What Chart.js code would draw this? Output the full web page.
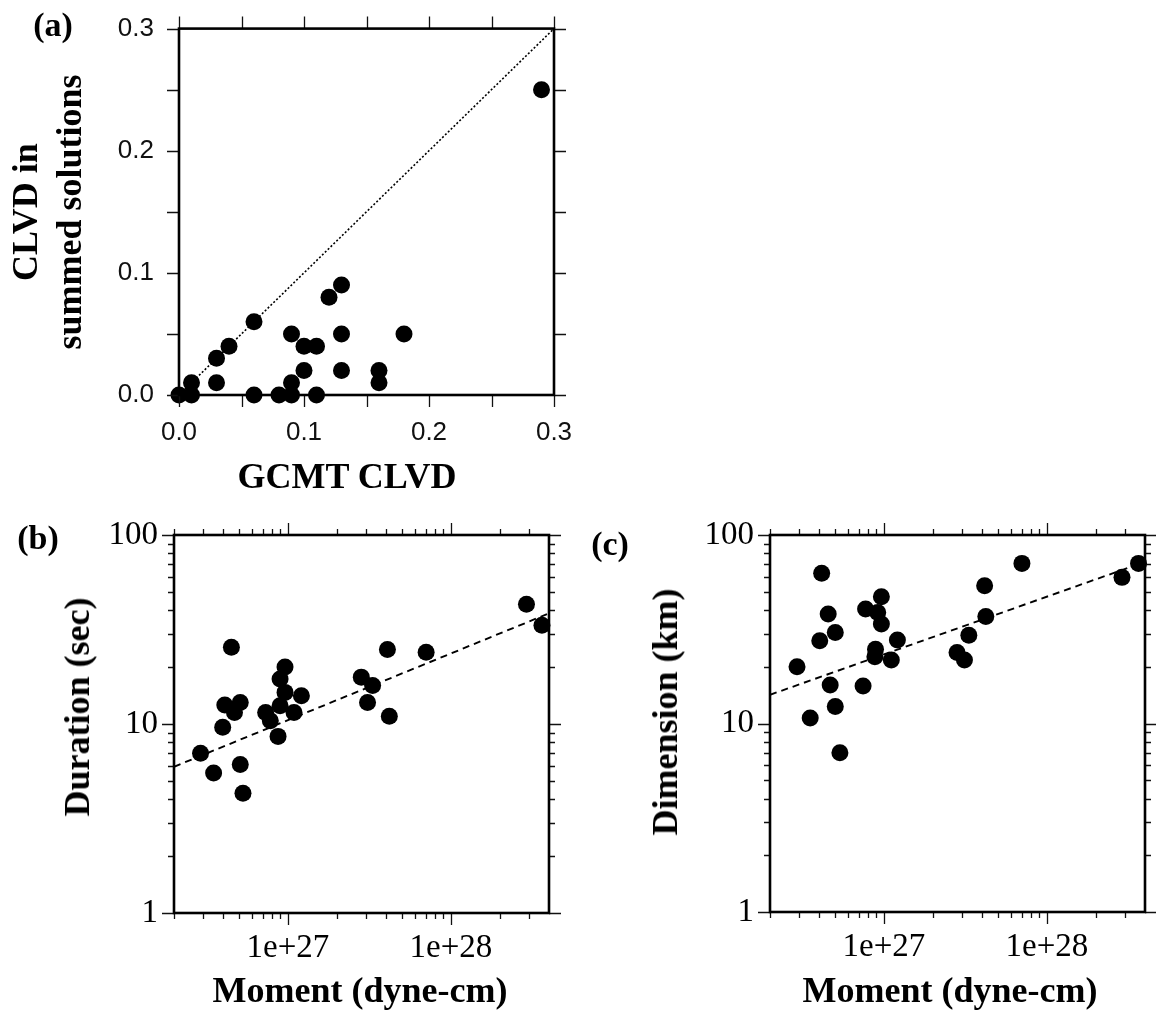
<!DOCTYPE html>
<html>
<head>
<meta charset="utf-8">
<script src="https://cdn.jsdelivr.net/npm/chart.js@4.4.1/dist/chart.umd.min.js"></script>
<style>
  body { margin: 0; background: #fff; width: 1156px; height: 1017px; position: relative; overflow: hidden; }
  canvas { position: absolute; }
  .lbl {
    position: absolute;
    font-family: "Liberation Serif", "Times New Roman", serif;
    font-weight: bold;
    font-size: 36px;
    line-height: 36px;
    color: #000;
    white-space: nowrap;
    transform: translate(-50%, -50%);
  }
  .rot { transform: translate(-50%, -50%) rotate(-90deg); text-align: center; }
  .panel { font-size: 34px; line-height: 34px; }
</style>
</head>
<body>
<canvas id="chartA" width="600" height="460" style="left:0;top:0"></canvas>
<canvas id="chartB" width="600" height="517" style="left:0;top:500px"></canvas>
<canvas id="chartC" width="556" height="517" style="left:600px;top:500px"></canvas>

<div class="lbl panel" style="left:53px;top:25px">(a)</div>
<div class="lbl panel" style="left:38px;top:538px">(b)</div>
<div class="lbl panel" style="left:610px;top:544px">(c)</div>

<div class="lbl rot" style="left:47px;top:212px;line-height:44px">CLVD in<br>summed solutions</div>
<div class="lbl" style="left:347px;top:476px">GCMT CLVD</div>
<div class="lbl rot" style="left:77px;top:707px">Duration (sec)</div>
<div class="lbl" style="left:360px;top:990px">Moment (dyne-cm)</div>
<div class="lbl rot" style="left:665px;top:712px">Dimension (km)</div>
<div class="lbl" style="left:950px;top:990px">Moment (dyne-cm)</div>

<script>
// (a) CLVD comparison
const aGcmt   = [0, 0.01, 0.01, 0.03, 0.03, 0.04, 0.06, 0.06, 0.08, 0.09, 0.09, 0.09, 0.10, 0.10, 0.11, 0.11, 0.12, 0.13, 0.13, 0.13, 0.16, 0.16, 0.18, 0.29];
const aSummed = [0, 0,    0.01, 0.01, 0.03, 0.04, 0.06, 0,    0,    0,    0.01, 0.05, 0.04, 0.02, 0.04, 0,    0.08, 0.09, 0.05, 0.02, 0.02, 0.01, 0.05, 0.25];
const aLineX = [0, 0.3];
const aLineY = [0, 0.3];
const aTicks = [0, 0.1, 0.2, 0.3];
const aMinor = [0.05, 0.15, 0.25];

// (b) duration vs moment
const bMoment = [2.91e26, 3.5e26, 3.98e26, 4.1e26, 4.5e26, 4.7e26, 5.1e26, 5.1e26, 5.3e26, 7.3e26, 7.8e26, 8.7e26, 8.95e26,
  8.95e26, 9.6e26, 9.6e26, 1.09e27, 1.21e27, 2.82e27, 3.08e27, 3.31e27, 4.08e27, 4.19e27, 7.05e27, 2.91e28, 3.62e28];
const bDuration = [7.0, 5.5, 9.6, 12.6, 25.5, 11.5, 13.0, 6.1, 4.3, 11.5, 10.4, 8.6, 12.5,
  17.3, 20.0, 14.7, 11.5, 14.1, 17.7, 13.0, 16.0, 24.8, 11.0, 24.0, 43.0, 33.3];
const bFitMoment = [2e26, 4e28];
const bFitDuration = [5.94, 38.5];

// (c) dimension vs moment
const cMoment = [2.93e26, 3.53e26, 4.04e26, 4.15e26, 4.55e26, 4.68e26, 5.03e26, 5.03e26, 5.37e26, 7.45e26, 7.72e26, 9.16e26, 8.88e26,
  8.8e26, 9.65e26, 9.65e26, 1.11e27, 1.21e27, 2.81e27, 3.12e27, 3.32e27, 4.15e27, 4.22e27, 7.03e27, 2.89e28, 3.65e28];
const cDimension = [20.0, 10.7, 27.5, 62.6, 38.1, 16.0, 30.4, 12.3, 7.0, 15.8, 40.5, 38.8, 24.8,
  22.6, 47.1, 33.7, 21.7, 27.7, 23.8, 21.7, 29.4, 53.8, 37.0, 70.7, 59.6, 70.7];
const cFitMoment = [2e26, 4e28];
const cFitDimension = [14.2, 72];

const momentMin = 2e26, momentMax = 4e28;
const momentTicks = [1e27, 1e28];
const logTicks = [1, 10, 100];

const serif = '"Liberation Serif", "Times New Roman", serif';
const sans = '"Liberation Sans", Arial, sans-serif';

function pairs(xs, ys){
  return xs.map((x, i) => ({ x: x, y: ys[i] }));
}

function logMinor(min, max){
  const out = [];
  for(let e = Math.floor(Math.log10(min)); e <= Math.ceil(Math.log10(max)); e++){
    for(let m = 2; m <= 9; m++){
      const v = m * Math.pow(10, e);
      if(v >= min * 0.999 && v <= max * 0.999) out.push(v);
    }
  }
  return out;
}

// box round the plot with outward ticks on all four sides
function framePlugin(xMajor, xMinor, yMajor, yMinor, majorLen, minorLen){
  return {
    id: "frame",
    afterDatasetsDraw(chart){
      const ctx = chart.ctx;
      const a = chart.chartArea;
      const x = chart.scales.x, y = chart.scales.y;
      ctx.save();
      ctx.strokeStyle = "#111";
      ctx.lineWidth = 1.3;
      ctx.beginPath();
      const xt = (vals, len) => vals.forEach(v => {
        const px = Math.round(x.getPixelForValue(v)) + 0.5;
        ctx.moveTo(px, a.top); ctx.lineTo(px, a.top - len);
        ctx.moveTo(px, a.bottom); ctx.lineTo(px, a.bottom + len);
      });
      const yt = (vals, len) => vals.forEach(v => {
        const py = Math.round(y.getPixelForValue(v)) + 0.5;
        ctx.moveTo(a.left, py); ctx.lineTo(a.left - len, py);
        ctx.moveTo(a.right, py); ctx.lineTo(a.right + len, py);
      });
      xt(xMajor, majorLen); xt(xMinor, minorLen);
      yt(yMajor, majorLen); yt(yMinor, minorLen);
      ctx.stroke();
      ctx.strokeStyle = "#000";
      ctx.lineWidth = 2.6;
      ctx.strokeRect(a.left, a.top, a.right - a.left, a.bottom - a.top);
      ctx.restore();
    }
  };
}

function scatterSet(points){
  return {
    data: points,
    pointRadius: 8.5,
    pointHoverRadius: 8.5,
    backgroundColor: "#000",
    borderWidth: 0,
    clip: false
  };
}

function lineSet(points, dash, width){
  return {
    data: points,
    showLine: true,
    pointRadius: 0,
    borderColor: "#000",
    borderWidth: width,
    borderDash: dash,
    fill: false
  };
}

// Chart (a)
new Chart(document.getElementById("chartA"), {
  type: "scatter",
  data: {
    datasets: [
      lineSet(pairs(aLineX, aLineY), [2, 2], 1.6),
      scatterSet(pairs(aGcmt, aSummed))
    ]
  },
  options: {
    responsive: false,
    animation: false,
    layout: { padding: { top: 21, right: 46, bottom: 0, left: 0 } },
    plugins: { legend: { display: false }, tooltip: { enabled: false } },
    scales: {
      x: {
        type: "linear", min: 0, max: 0.3,
        afterBuildTicks: s => { s.ticks = aTicks.map(v => ({ value: v })); },
        afterFit: s => { s.height = 65; },
        grid: { display: false, drawTicks: true, tickLength: 12 },
        border: { display: false },
        ticks: { autoSkip: false, maxRotation: 0, padding: 10, color: "#111",
          font: { family: sans, size: 26 }, callback: v => v.toFixed(1) }
      },
      y: {
        type: "linear", min: 0, max: 0.3,
        afterBuildTicks: s => { s.ticks = aTicks.map(v => ({ value: v })); },
        afterFit: s => { s.width = 179; },
        grid: { display: false, drawTicks: true, tickLength: 12 },
        border: { display: false },
        ticks: { autoSkip: false, padding: 13, color: "#111",
          font: { family: sans, size: 26 }, callback: v => v.toFixed(1) }
      }
    }
  },
  plugins: [framePlugin(aTicks, aMinor, aTicks, aMinor, 12, 12)]
});

function logChart(id, xs, ys, fitX, fitY, padRight, yWidth, xHeight){
  return new Chart(document.getElementById(id), {
    type: "scatter",
    data: {
      datasets: [
        lineSet(pairs(fitX, fitY), [7, 5], 1.9),
        scatterSet(pairs(xs, ys))
      ]
    },
    options: {
      responsive: false,
      animation: false,
      layout: { padding: { top: 35, right: padRight, bottom: 0, left: 0 } },
      plugins: { legend: { display: false }, tooltip: { enabled: false } },
      scales: {
        x: {
          type: "logarithmic", min: momentMin, max: momentMax,
          afterBuildTicks: s => { s.ticks = momentTicks.map(v => ({ value: v })); },
          afterFit: s => { s.height = xHeight; },
          grid: { display: false, drawTicks: true, tickLength: 12 },
          border: { display: false },
          ticks: { autoSkip: false, maxRotation: 0, padding: 4, color: "#000",
            font: { family: serif, size: 33 }, callback: v => Number(v).toExponential() }
        },
        y: {
          type: "logarithmic", min: 1, max: 100,
          afterBuildTicks: s => { s.ticks = logTicks.map(v => ({ value: v })); },
          afterFit: s => { s.width = yWidth; },
          grid: { display: false, drawTicks: true, tickLength: 12 },
          border: { display: false },
          ticks: { autoSkip: false, padding: 4, color: "#000",
            font: { family: serif, size: 33 }, callback: v => String(v) }
        }
      }
    },
    plugins: [framePlugin(momentTicks, logMinor(momentMin, momentMax), logTicks, logMinor(1, 100), 12, 6)]
  });
}

// Chart (b) and (c)
logChart("chartB", bMoment, bDuration, bFitMoment, bFitDuration, 51, 174, 104);
logChart("chartC", cMoment, cDimension, cFitMoment, cFitDimension, 11, 170, 105);
</script>
</body>
</html>
